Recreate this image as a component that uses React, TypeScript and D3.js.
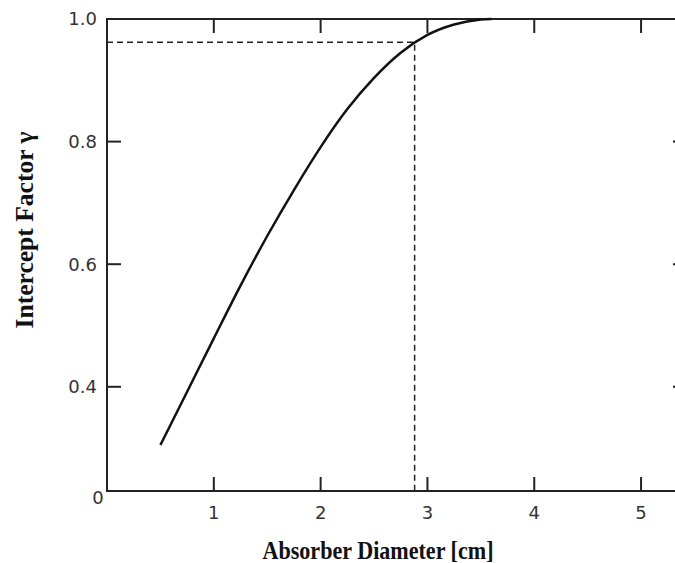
import React, { useRef, useEffect } from "react";
import * as d3 from "d3";

// absorber diameter [cm] and intercept factor
const diameter = [0.5, 0.75, 1.0, 1.25, 1.5, 1.75, 2.0, 2.25, 2.5, 2.75, 3.0, 3.25, 3.5, 3.6];
const gamma = [0.305, 0.392, 0.479, 0.565, 0.646, 0.721, 0.791, 0.853, 0.904, 0.945, 0.974, 0.991, 0.999, 1.0];

const xTicks = [1, 2, 3, 4, 5];
const yTicks = [0.4, 0.6, 0.8, 1.0];

// marked design point
const markX = 2.88;
const markY = 0.962;

function App() {
    const svgRef = useRef<SVGSVGElement>(null);

    useEffect(() => {
        const width = 675;
        const height = 563;
        const svg = d3.select(svgRef.current);
        svg.selectAll("*").remove();
        svg.attr("width", width).attr("height", height);

        const x = d3.scaleLinear().domain([0, 5.43]).range([107, 687]);
        const y = d3.scaleLinear().domain([0.23, 1.0]).range([491, 19]);

        const axisColor = "#222";
        const tickLen = 14;
        const tickFont = "'DejaVu Sans', Verdana, sans-serif";
        const titleFont = "'Liberation Serif', 'Times New Roman', serif";

        // frame
        svg.append("rect")
            .attr("x", x(0))
            .attr("y", y(1.0))
            .attr("width", x(5.43) - x(0))
            .attr("height", y(0.23) - y(1.0))
            .attr("fill", "none")
            .attr("stroke", axisColor)
            .attr("stroke-width", 2);

        const g = svg.append("g");

        // x ticks (bottom and top, inward)
        xTicks.forEach((t) => {
            g.append("line")
                .attr("x1", x(t)).attr("x2", x(t))
                .attr("y1", y(0.23)).attr("y2", y(0.23) - tickLen)
                .attr("stroke", axisColor).attr("stroke-width", 2);
            g.append("line")
                .attr("x1", x(t)).attr("x2", x(t))
                .attr("y1", y(1.0)).attr("y2", y(1.0) + tickLen)
                .attr("stroke", axisColor).attr("stroke-width", 2);
            g.append("text")
                .attr("x", x(t))
                .attr("y", y(0.23) + 28)
                .attr("text-anchor", "middle")
                .attr("font-family", tickFont)
                .attr("font-size", 18)
                .attr("fill", "#333")
                .text(String(t));
        });

        g.append("text")
            .attr("x", x(0) - 9)
            .attr("y", y(0.23) + 13)
            .attr("text-anchor", "middle")
            .attr("font-family", tickFont)
            .attr("font-size", 18)
            .attr("fill", "#333")
            .text("0");

        // y ticks (left and right, inward)
        yTicks.forEach((t) => {
            if (t < 1.0) {
                g.append("line")
                    .attr("x1", x(0)).attr("x2", x(0) + tickLen)
                    .attr("y1", y(t)).attr("y2", y(t))
                    .attr("stroke", axisColor).attr("stroke-width", 2);
                g.append("line")
                    .attr("x1", x(5.43)).attr("x2", x(5.43) - tickLen)
                    .attr("y1", y(t)).attr("y2", y(t))
                    .attr("stroke", axisColor).attr("stroke-width", 2);
            }
            g.append("text")
                .attr("x", x(0) - 10)
                .attr("y", y(t))
                .attr("dy", "0.36em")
                .attr("text-anchor", "end")
                .attr("font-family", tickFont)
                .attr("font-size", 18)
                .attr("fill", "#333")
                .text(d3.format(".1f")(t));
        });

        // dashed guide lines
        g.append("path")
            .attr("d", `M${x(0)},${y(markY)}H${x(markX)}V${y(0.23)}`)
            .attr("fill", "none")
            .attr("stroke", "#222")
            .attr("stroke-width", 1.5)
            .attr("stroke-dasharray", "6,4");

        // curve
        const pts = diameter.map((d, i) => [d, gamma[i]] as [number, number]);
        const line = d3.line<[number, number]>()
            .x((d) => x(d[0]))
            .y((d) => y(d[1]))
            .curve(d3.curveMonotoneX);

        g.append("path")
            .datum(pts)
            .attr("d", line)
            .attr("fill", "none")
            .attr("stroke", "#111")
            .attr("stroke-width", 2.5);

        // axis titles
        svg.append("text")
            .attr("x", 378)
            .attr("y", 559)
            .attr("text-anchor", "middle")
            .attr("font-family", titleFont)
            .attr("font-weight", "bold")
            .attr("font-size", 25)
            .attr("textLength", 231)
            .attr("lengthAdjust", "spacingAndGlyphs")
            .attr("fill", "#111")
            .text("Absorber Diameter [cm]");

        svg.append("text")
            .attr("transform", "translate(33,230) rotate(-90)")
            .attr("text-anchor", "middle")
            .attr("font-family", titleFont)
            .attr("font-weight", "bold")
            .attr("font-size", 26)
            .attr("textLength", 197)
            .attr("lengthAdjust", "spacingAndGlyphs")
            .attr("fill", "#111")
            .text("Intercept Factor γ");
    }, []);

    return (
        <svg
            ref={svgRef}
            style={{ position: "absolute", left: 0, top: 0, background: "#fff" }}
        ></svg>
    );
}

export default App;
